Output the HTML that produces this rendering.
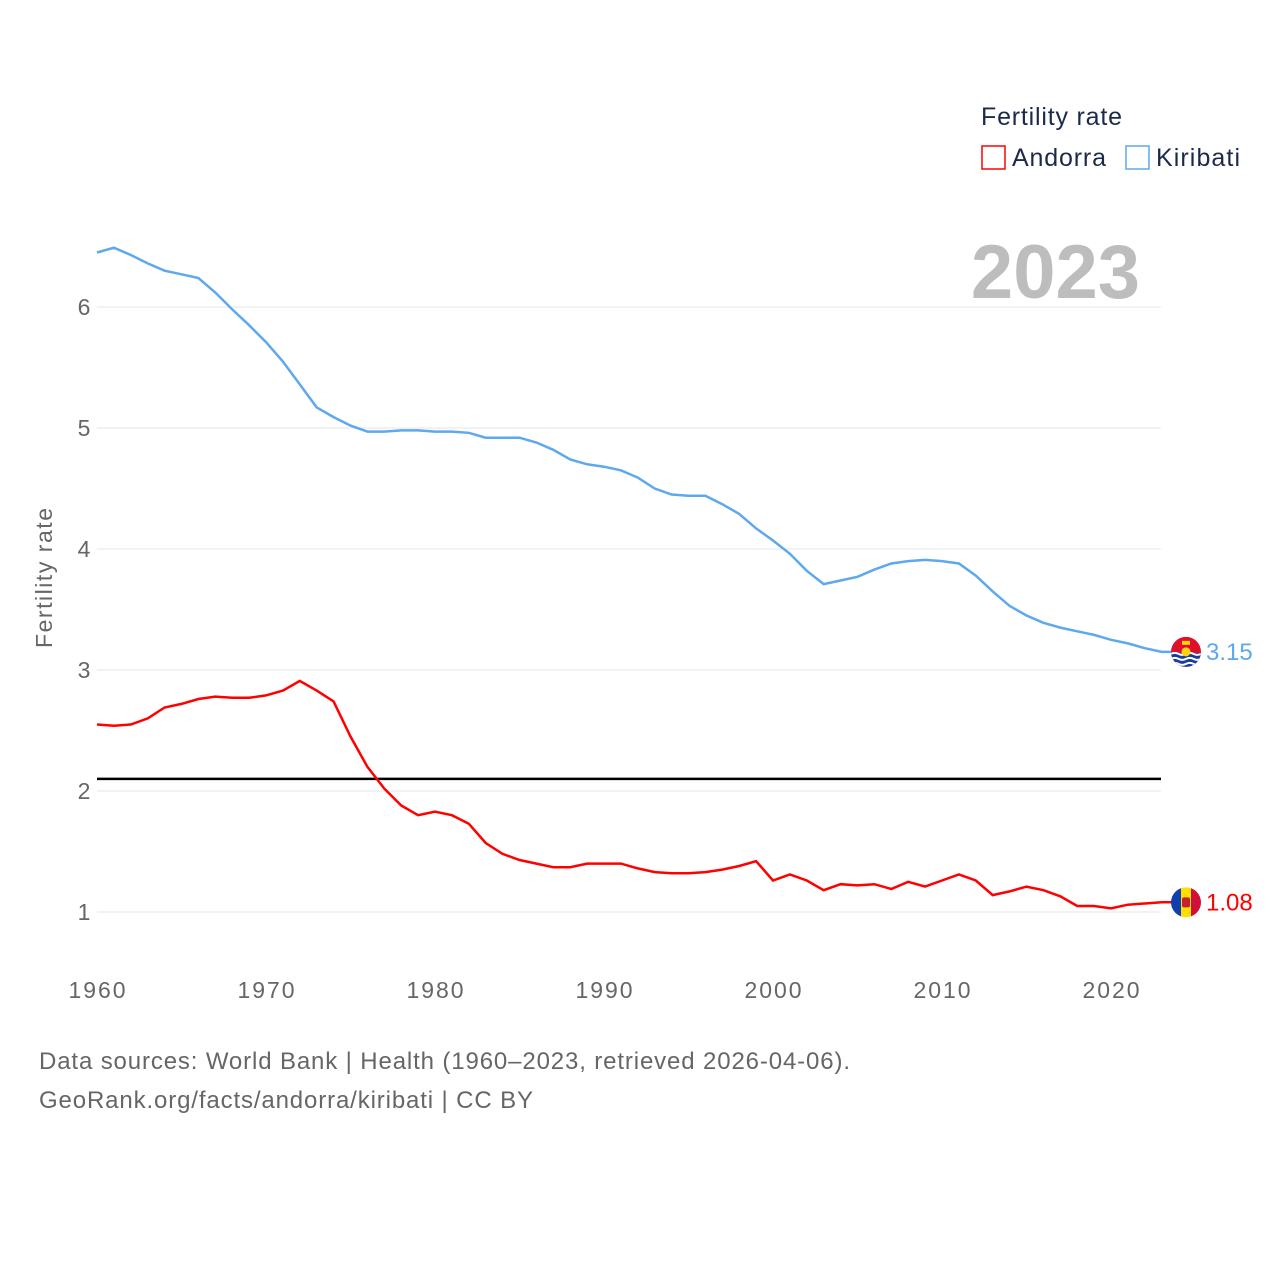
<!DOCTYPE html>
<html><head><meta charset="utf-8"><style>
html,body{margin:0;padding:0;background:#fff;}
svg{display:block;font-family:"Liberation Sans",sans-serif;}
</style></head><body>
<svg id="chart" width="1280" height="1280" viewBox="0 0 1280 1280">
<g id="grid"></g>
<g id="yticks"></g>
<g id="xticks"></g>
<text x="52" y="578" transform="rotate(-90 52 578)" text-anchor="middle" font-size="23" fill="#666" textLength="140">Fertility rate</text>
<text x="1140" y="298" text-anchor="end" font-size="76" font-weight="bold" fill="#bdbdbd">2023</text>
<line id="repl" x1="97" x2="1161" stroke="#000" stroke-width="2.5"/>
<path id="kir" fill="none" stroke="#5ea8ee" stroke-width="2.5"/>
<path id="and" fill="none" stroke="#ff0000" stroke-width="2.5"/>
<g id="kirflag">
 <clipPath id="ck"><circle id="ckc" r="15"/></clipPath>
</g>
<g id="andflag">
 <clipPath id="ca"><circle id="cac" r="15"/></clipPath>
</g>
<text id="kirval" font-size="24" fill="#5ea8ee">3.15</text>
<text id="andval" font-size="24" fill="#ff0000">1.08</text>
<g>
 <text x="981" y="125" font-size="25" fill="#1b2a4a" textLength="141">Fertility rate</text>
 <g>
  <rect x="982" y="146" width="23" height="23" fill="none" stroke="#ff0000" stroke-width="1.5"/>
  <text x="1012" y="166" font-size="25" fill="#1b2a4a" textLength="94">Andorra</text>
 </g>
 <g>
  <rect x="1126" y="146" width="23" height="23" fill="none" stroke="#5ea8ee" stroke-width="1.5"/>
  <text x="1156" y="166" font-size="25" fill="#1b2a4a" textLength="84">Kiribati</text>
 </g>
</g>
<text x="39" y="1069" font-size="24" fill="#666" textLength="811">Data sources: World Bank | Health (1960–2023, retrieved 2026-04-06).</text>
<text x="39" y="1108" font-size="24" fill="#666" textLength="494">GeoRank.org/facts/andorra/kiribati | CC BY</text>
</svg>
<script>
const years = [];
for (let y = 1960; y <= 2023; y++) years.push(y);
const kiribati = [6.45,6.49,6.43,6.36,6.30,6.27,6.24,6.12,5.98,5.85,5.71,5.55,5.36,5.17,5.09,5.02,4.97,4.97,4.98,4.98,4.97,4.97,4.96,4.92,4.92,4.92,4.88,4.82,4.74,4.70,4.68,4.65,4.59,4.50,4.45,4.44,4.44,4.37,4.29,4.17,4.07,3.96,3.82,3.71,3.74,3.77,3.83,3.88,3.90,3.91,3.90,3.88,3.78,3.65,3.53,3.45,3.39,3.35,3.32,3.29,3.25,3.22,3.18,3.15];
const andorra = [2.55,2.54,2.55,2.60,2.69,2.72,2.76,2.78,2.77,2.77,2.79,2.83,2.91,2.83,2.74,2.45,2.20,2.02,1.88,1.80,1.83,1.80,1.73,1.57,1.48,1.43,1.40,1.37,1.37,1.40,1.40,1.40,1.36,1.33,1.32,1.32,1.33,1.35,1.38,1.42,1.26,1.31,1.26,1.18,1.23,1.22,1.23,1.19,1.25,1.21,1.26,1.31,1.26,1.14,1.17,1.21,1.18,1.13,1.05,1.05,1.03,1.06,1.07,1.08];
const yTicks = [1,2,3,4,5,6];
const xTicks = [1960,1970,1980,1990,2000,2010,2020];
const replacementRate = 2.1;

const NS = "http://www.w3.org/2000/svg";
const X = yr => 97 + (yr - 1960) * (1111 - 97) / 60;
const Y = v => 912 - (v - 1) * 121;
function mk(tag, attrs, parent){const e=document.createElementNS(NS,tag);for(const k in attrs)e.setAttribute(k,attrs[k]);parent.appendChild(e);return e;}

const grid=document.getElementById('grid'), yt=document.getElementById('yticks'), xt=document.getElementById('xticks');
yTicks.forEach(v=>{
  const l=mk('line',{x1:97,x2:1161,y1:Y(v),y2:Y(v),stroke:'#e6e6e6','stroke-width':1},grid);
  
  
  const t=mk('text',{x:84,y:Y(v)+8,'text-anchor':'middle','font-size':23,fill:'#666'},yt);
  t.textContent=v;
  
  
});
xTicks.forEach(v=>{
  const t=mk('text',{x:X(v),y:998,'text-anchor':'middle','font-size':23,fill:'#666',textLength:57},xt);
  t.textContent=v;
  
  
});
const rl=document.getElementById('repl');
rl.setAttribute('y1',Y(replacementRate));rl.setAttribute('y2',Y(replacementRate));
function path(arr){return arr.map((v,i)=>(i?'L':'M')+X(years[i]).toFixed(1)+' '+Y(v).toFixed(1)).join(' ');}
const kp=path(kiribati)+' L1172 '+Y(kiribati[kiribati.length-1]).toFixed(1);
const ap=path(andorra)+' L1172 '+Y(andorra[andorra.length-1]).toFixed(1);
document.getElementById('kir').setAttribute('d',kp);
document.getElementById('and').setAttribute('d',ap);

const fx=1186, ky=Y(kiribati[kiribati.length-1]), ay=Y(andorra[andorra.length-1]);
document.getElementById('ckc').setAttribute('cx',fx);document.getElementById('ckc').setAttribute('cy',ky);
document.getElementById('cac').setAttribute('cx',fx);document.getElementById('cac').setAttribute('cy',ay);
const kf=mk('g',{'clip-path':'url(#ck)'},document.getElementById('kirflag'));
mk('rect',{x:fx-15,y:ky-15,width:30,height:30,fill:'#e0102a'},kf);
mk('rect',{x:fx-15,y:ky+1,width:30,height:14,fill:'#173d9c'},kf);
[2,7,12].forEach(d=>mk('path',{d:`M${fx-15} ${ky+d} q3.75 -2 7.5 0 t7.5 0 t7.5 0 t7.5 0`,fill:'none',stroke:'#fff','stroke-width':2},kf));
mk('circle',{cx:fx,cy:ky,r:4.5,fill:'#fcd116'},kf);
mk('rect',{x:fx-4,y:ky-11,width:8,height:4,fill:'#fcd116'},kf);
const af=mk('g',{'clip-path':'url(#ca)'},document.getElementById('andflag'));
mk('rect',{x:fx-15,y:ay-15,width:10,height:30,fill:'#1040b0'},af);
mk('rect',{x:fx-5,y:ay-15,width:10,height:30,fill:'#fedf00'},af);
mk('rect',{x:fx+5,y:ay-15,width:10,height:30,fill:'#d0103a'},af);
mk('rect',{x:fx-4,y:ay-5,width:8,height:10,fill:'#c7202f',rx:2},af);
const kv=document.getElementById('kirval');kv.setAttribute('x',1206);kv.setAttribute('y',ky+8);
const av=document.getElementById('andval');av.setAttribute('x',1206);av.setAttribute('y',ay+8);
</script>
</body></html>
